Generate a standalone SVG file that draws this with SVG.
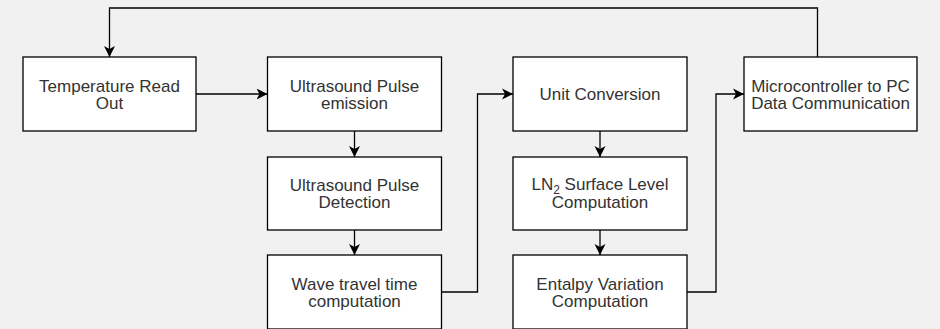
<svg xmlns="http://www.w3.org/2000/svg" width="940" height="329" viewBox="0 0 940 329">
<style>
.box{fill:#ffffff;stroke:#000000;stroke-width:1.3}
.t{font-family:"Liberation Sans",Arial,sans-serif;font-size:17px;fill:#333333;text-anchor:middle}
.c{fill:none;stroke:#000000;stroke-width:1.3}
</style>
<defs>
<marker id="arr" markerUnits="userSpaceOnUse" markerWidth="12" markerHeight="12" refX="11" refY="6" orient="auto">
<path d="M0,0.5 L11,6 L0,11.5 L3,6 Z" fill="#000000"/>
</marker>
</defs>
<rect width="940" height="329" fill="#f1f1f1"/>
<g id="connectors">
<path class="c" d="M196,94 H267.5" marker-end="url(#arr)"/>
<path class="c" d="M354.5,131 V157" marker-end="url(#arr)"/>
<path class="c" d="M354.5,230 V255" marker-end="url(#arr)"/>
<path class="c" d="M441.5,292 H477.5 V94 H513" marker-end="url(#arr)"/>
<path class="c" d="M600,131 V157" marker-end="url(#arr)"/>
<path class="c" d="M600,230 V255" marker-end="url(#arr)"/>
<path class="c" d="M687,292 H716 V94 H744" marker-end="url(#arr)"/>
<path class="c" d="M817.5,57 V8 H109.5 V57" marker-end="url(#arr)"/>
</g>
<g id="temperature">
<rect class="box" x="23" y="57" width="173" height="74"/>
<text class="t" x="109.5" y="91.7">Temperature Read</text>
<text class="t" x="109.5" y="108.7">Out</text>
</g>
<g id="emission">
<rect class="box" x="267.5" y="57" width="174" height="74"/>
<text class="t" x="354.5" y="91.7">Ultrasound Pulse</text>
<text class="t" x="354.5" y="108.7">emission</text>
</g>
<g id="detection">
<rect class="box" x="267.5" y="157" width="174" height="73"/>
<text class="t" x="354.5" y="191">Ultrasound Pulse</text>
<text class="t" x="354.5" y="208">Detection</text>
</g>
<g id="wave">
<rect class="box" x="267.5" y="255" width="174" height="74"/>
<text class="t" x="354.5" y="289.5">Wave travel time</text>
<text class="t" x="354.5" y="306.5">computation</text>
</g>
<g id="unit">
<rect class="box" x="513" y="57" width="174" height="74"/>
<text class="t" x="600" y="100">Unit Conversion</text>
</g>
<g id="surface">
<rect class="box" x="513" y="157" width="174" height="73"/>
<text class="t" x="600" y="190">LN<tspan font-size="12" dy="4">2</tspan><tspan dy="-4"> Surface Level</tspan></text>
<text class="t" x="600" y="208">Computation</text>
</g>
<g id="enthalpy">
<rect class="box" x="513" y="255" width="174" height="74"/>
<text class="t" x="600" y="289.5">Entalpy Variation</text>
<text class="t" x="600" y="306.5">Computation</text>
</g>
<g id="micro">
<rect class="box" x="744" y="57" width="173" height="74"/>
<text class="t" x="830.5" y="91.7">Microcontroller to PC</text>
<text class="t" x="830.5" y="108.7">Data Communication</text>
</g>
</svg>
